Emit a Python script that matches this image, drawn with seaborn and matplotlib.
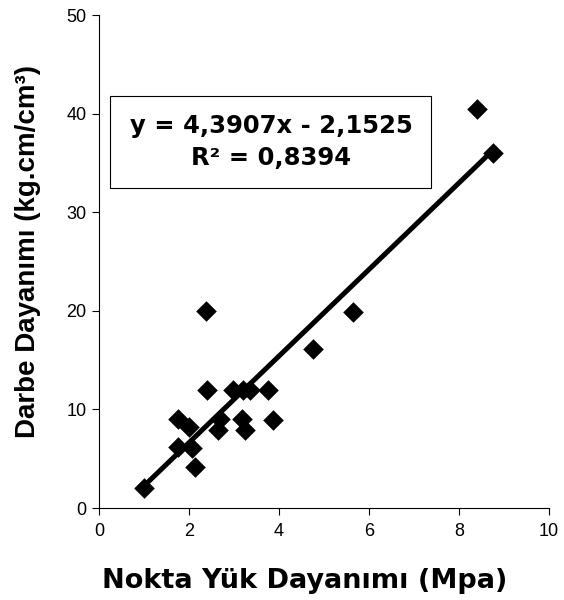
import matplotlib
matplotlib.use("Agg")
import matplotlib.pyplot as plt
import seaborn as sns
import pandas as pd
import numpy as np
from matplotlib.patches import Rectangle

# values
nokta_yuk = [1.0, 1.75, 1.76, 2.0, 2.06, 2.13, 2.38, 2.39, 2.65, 2.69, 2.98,
             3.17, 3.21, 3.24, 3.36, 3.76, 3.87, 4.76, 5.64, 8.39, 8.75]
darbe = [2.0, 6.2, 9.0, 8.2, 6.05, 4.2, 20.0, 12.0, 7.9, 9.0, 12.0,
         9.0, 12.0, 7.9, 12.0, 12.0, 8.9, 16.1, 19.9, 40.5, 36.0]
slope, intercept, r2 = 4.3907, -2.1525, 0.8394
x_ticks = [0, 2, 4, 6, 8, 10]
y_ticks = [0, 10, 20, 30, 40, 50]

df = pd.DataFrame({"x": nokta_yuk, "y": darbe})
xs = np.array([min(nokta_yuk), max(nokta_yuk)])
trend = pd.DataFrame({"x": xs, "y": slope * xs + intercept})

sns.set_style("white", {"text.color": "black", "axes.labelcolor": "black",
                        "xtick.color": "black", "ytick.color": "black"})
plt.rcParams["font.family"] = ["Liberation Sans", "DejaVu Sans"]
wide = ["DejaVu Sans"]

fig = plt.figure(figsize=(5.64, 6.0), dpi=100)
ax = fig.add_axes([0.1755, 0.1533, 0.7979, 0.8217])

sns.scatterplot(data=df, x="x", y="y", marker="D", s=110, color="black",
                edgecolor="black", linewidth=0, ax=ax, zorder=2)
sns.lineplot(data=trend, x="x", y="y", color="black", linewidth=3.6, ax=ax, zorder=3)

ax.set_xlim(0, 10)
ax.set_ylim(0, 50)
ax.set_xticks(x_ticks)
ax.set_yticks(y_ticks)
ax.tick_params(axis="both", direction="out", length=5, width=0.8, color="black",
               labelsize=13, bottom=True, left=True)
ax.tick_params(axis="x", pad=6)
ax.tick_params(axis="y", pad=4)
for side in ["top", "right"]:
    ax.spines[side].set_visible(False)
for side in ["left", "bottom"]:
    ax.spines[side].set_color("black")
    ax.spines[side].set_linewidth(0.8)

ax.set_xlabel("Nokta Yük Dayanımı (Mpa)", fontsize=19.5, fontweight="bold",
              family=wide, labelpad=20)
ax.set_ylabel("Darbe Dayanımı (kg.cm/cm³)", fontsize=20, fontweight="bold", labelpad=18)
ax.xaxis.label.set_x(0.458)
ax.yaxis.label.set_y(0.521)

ax.add_patch(Rectangle((0.024, 0.649), 0.714, 0.187, transform=ax.transAxes,
                       facecolor="white", edgecolor="black", linewidth=0.8, zorder=4))
ax.text(0.383, 0.774, f"y = {slope:.4f}x - {abs(intercept):.4f}".replace(".", ","),
        transform=ax.transAxes, ha="center", va="center", fontsize=17.5,
        fontweight="bold", family=wide, zorder=5)
ax.text(0.383, 0.709, f"R² = {r2:.4f}".replace(".", ","),
        transform=ax.transAxes, ha="center", va="center", fontsize=17.5,
        fontweight="bold", family=wide, zorder=5)

fig.savefig("out.png", dpi=100)
